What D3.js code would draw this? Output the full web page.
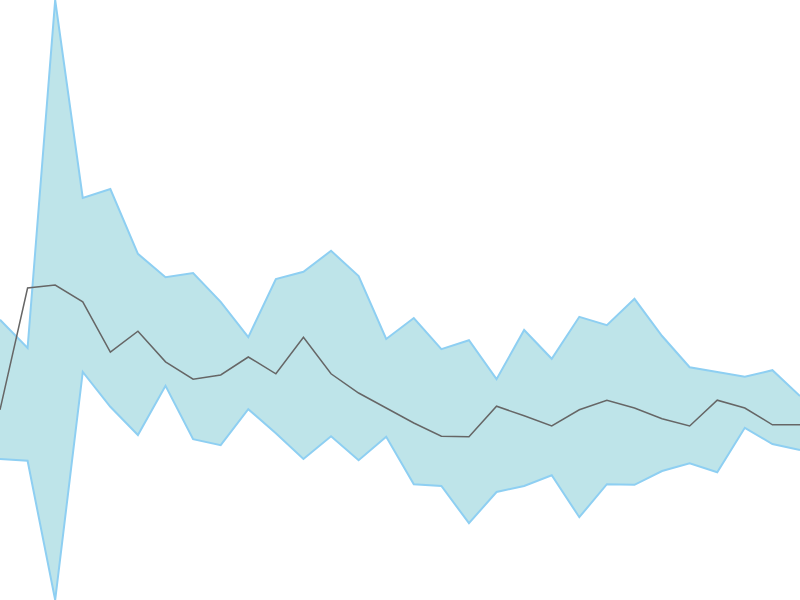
<!DOCTYPE html>
<html>
<head>
<meta charset="utf-8">
<script src="https://cdn.jsdelivr.net/npm/d3@7"></script>
<style>
  body { margin: 0; background: #fff; }
  svg { display: block; }
</style>
</head>
<body>
<svg id="chart" width="800" height="600"></svg>
<script>
  /* band and middle line */
  var upper = [46.7, 42.0, 100, 67.0, 68.5, 57.7, 53.8, 54.5, 49.7, 43.8, 53.5, 54.7, 58.2, 54.0, 43.5,
               47.0, 41.8, 43.3, 36.8, 45.0, 40.2, 47.2, 45.8, 50.2, 44.0, 38.8, 38.0, 37.2, 38.3, 34.0];
  var middle = [31.7, 52.0, 52.5, 49.7, 41.3, 44.8, 39.7, 36.8, 37.5, 40.5, 37.7, 43.8, 37.7, 34.5, 32.0,
                29.5, 27.3, 27.2, 32.3, 30.7, 29.0, 31.7, 33.3, 32.0, 30.2, 29.0, 33.3, 32.0, 29.2, 29.2];
  var lower = [23.5, 23.2, 0, 38.0, 32.2, 27.5, 35.7, 26.8, 25.8, 31.8, 27.8, 23.5, 27.3, 23.3, 27.2,
               19.3, 19.0, 12.8, 18.0, 19.0, 20.8, 13.8, 19.3, 19.2, 21.5, 22.8, 21.3, 28.7, 26.0, 25.0];

  var width = 800, height = 600;
  var svg = d3.select("#chart");

  var x = d3.scaleLinear().domain([0, middle.length - 1]).range([0, width]);
  var y = d3.scaleLinear()
    .domain([d3.min(lower), d3.max(upper)])
    .range([height, 0]);

  var idx = d3.range(middle.length);

  var area = d3.area()
    .x(function(i) { return x(i); })
    .y0(function(i) { return y(lower[i]); })
    .y1(function(i) { return y(upper[i]); });

  var line = function(arr) {
    return d3.line()
      .x(function(i) { return x(i); })
      .y(function(i) { return y(arr[i]); });
  };

  svg.append("path")
    .datum(idx)
    .attr("d", area)
    .attr("fill", "#bee4e9");

  svg.append("path")
    .datum(idx)
    .attr("d", line(upper))
    .attr("fill", "none")
    .attr("stroke", "#8ecff2")
    .attr("stroke-width", 2);

  svg.append("path")
    .datum(idx)
    .attr("d", line(lower))
    .attr("fill", "none")
    .attr("stroke", "#8ecff2")
    .attr("stroke-width", 2);

  svg.append("path")
    .datum(idx)
    .attr("d", line(middle))
    .attr("fill", "none")
    .attr("stroke", "#666")
    .attr("stroke-width", 1.5);
</script>
</body>
</html>
